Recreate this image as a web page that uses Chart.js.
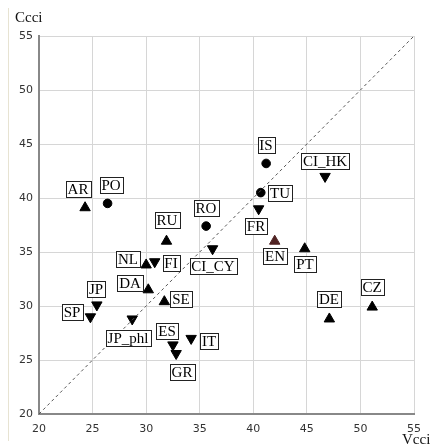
<!DOCTYPE html>
<html>
<head>
<meta charset="utf-8">
<script src="https://cdn.jsdelivr.net/npm/chart.js@4/dist/chart.umd.min.js"></script>
<style>
  html, body { margin: 0; padding: 0; background: #fff; }
  #wrap { width: 430px; height: 445px; position: relative; }
</style>
</head>
<body>
<div id="wrap"><canvas id="c" width="430" height="445"></canvas></div>
<script>
// Country codes with their Vcci (x) and Ccci (y) scores
const countries = ['PO', 'RO', 'IS', 'TU',
  'AR', 'RU', 'EN', 'NL', 'DA', 'SE', 'PT', 'CZ', 'DE',
  'FR', 'CI_CY', 'FI', 'JP', 'SP', 'JP_phl', 'ES', 'GR', 'IT', 'CI_HK'];
const vcci = [26.4, 35.6, 41.2, 40.7,
  24.3, 31.9, 42.0, 30.0, 30.2, 31.7, 44.8, 51.1, 47.1,
  40.5, 36.2, 30.8, 25.4, 24.8, 28.7, 32.5, 32.8, 34.2, 46.7];
const ccci = [39.5, 37.4, 43.2, 40.5,
  39.1, 36.0, 36.0, 33.8, 31.5, 30.4, 35.3, 29.9, 28.8,
  39.0, 35.3, 34.1, 30.1, 29.0, 28.8, 26.4, 25.6, 27.0, 42.0];
// Marker group of each country
const groups = ['dot', 'dot', 'dot', 'dot',
  'up', 'up', 'up', 'up', 'up', 'up', 'up', 'up', 'up',
  'down', 'down', 'down', 'down', 'down', 'down', 'down', 'down', 'down', 'down'];
const axisTicks = [20, 25, 30, 35, 40, 45, 50, 55];

// Marker look per group
const markerStyle = {
  dot:  { shape: 'circle',   radius: 4.3, rotation: 0 },
  up:   { shape: 'triangle', radius: 6,   rotation: 0 },
  down: { shape: 'triangle', radius: 6,   rotation: 180 }
};
const markerColor = { EN: '#4f2222' };

// Where each label box sits relative to its marker (pixels)
const labelShift = {
  PO: [3, -18], RO: [0, -18], IS: [0, -18], TU: [19, 0],
  AR: [-7, -19], RU: [0, -21], EN: [0, 15], NL: [-18, -6], DA: [-18, -7],
  SE: [17, -3], PT: [0, 15], CZ: [0, -20], DE: [0, -20],
  FR: [-3, 17], CI_CY: [0, 17], FI: [16, 1], JP: [-1, -16], SP: [-18, -5],
  'JP_phl': [-4, 19], ES: [-6, -14], GR: [6, 18], IT: [18, 3], CI_HK: [0, -15]
};

const serifFont = '15px "Liberation Serif", "Times New Roman", serif';
const points = countries.map((c, i) => ({ x: vcci[i], y: ccci[i] }));

const boxedLabels = {
  id: 'boxedLabels',
  beforeDraw(chart) {
    const ctx = chart.ctx;
    ctx.save();
    ctx.strokeStyle = '#e7e3d2';
    ctx.lineWidth = 1;
    ctx.beginPath();
    ctx.moveTo(8.5, 8);
    ctx.lineTo(8.5, 441);
    ctx.stroke();
    ctx.restore();
  },
  afterDatasetsDraw(chart) {
    const ctx = chart.ctx;
    const meta = chart.getDatasetMeta(1);
    ctx.save();
    ctx.font = serifFont;
    ctx.textAlign = 'center';
    ctx.textBaseline = 'middle';
    meta.data.forEach((el, i) => {
      const name = countries[i];
      const [dx, dy] = labelShift[name] || [0, -18];
      const cx = Math.round(el.x + dx);
      const cy = Math.round(el.y + dy);
      const w = Math.round(ctx.measureText(name).width + 4);
      const h = 16;
      const left = Math.round(cx - w / 2) + 0.5;
      const top = Math.round(cy - h / 2) + 0.5;
      ctx.fillStyle = '#fff';
      ctx.fillRect(left, top, w, h);
      ctx.strokeStyle = '#222';
      ctx.lineWidth = 1;
      ctx.strokeRect(left, top, w, h);
      ctx.fillStyle = '#000';
      ctx.fillText(name, cx, cy + 1);
    });
    ctx.restore();
  },
  afterDraw(chart) {
    const ctx = chart.ctx;
    ctx.save();
    ctx.font = serifFont;
    ctx.fillStyle = '#111';
    ctx.textBaseline = 'middle';
    ctx.textAlign = 'left';
    ctx.fillText('Ccci', 15, 18);
    ctx.fillText('Vcci', 402, 440);
    ctx.restore();
  }
};

const tickFont = { family: '"DejaVu Sans", Verdana, sans-serif', size: 11 };

new Chart(document.getElementById('c'), {
  data: {
    datasets: [
      {
        type: 'line',
        data: [{ x: 20, y: 20 }, { x: 55, y: 55 }],
        borderColor: '#555',
        borderWidth: 1,
        borderDash: [3, 3],
        pointRadius: 0,
        fill: false
      },
      {
        type: 'scatter',
        data: points,
        pointStyle: ctx => markerStyle[groups[ctx.dataIndex]].shape,
        radius: ctx => markerStyle[groups[ctx.dataIndex]].radius,
        rotation: ctx => markerStyle[groups[ctx.dataIndex]].rotation,
        backgroundColor: ctx => markerColor[countries[ctx.dataIndex]] || '#000',
        borderColor: ctx => markerColor[countries[ctx.dataIndex]] || '#000',
        borderWidth: 1
      }
    ]
  },
  options: {
    responsive: false,
    devicePixelRatio: 1,
    animation: false,
    events: [],
    layout: { padding: { left: 0, top: 36, right: 13, bottom: 0 } },
    plugins: { legend: { display: false }, tooltip: { enabled: false } },
    scales: {
      x: {
        type: 'linear',
        min: 20, max: 55,
        afterBuildTicks: s => { s.ticks = axisTicks.map(v => ({ value: v })); },
        afterFit: s => { s.height = 31; },
        ticks: { padding: 9, font: tickFont, color: '#333' },
        grid: { color: '#d6d6d6', lineWidth: 1, drawTicks: false },
        border: { color: '#888', width: 2 }
      },
      y: {
        type: 'linear',
        min: 20, max: 55,
        afterBuildTicks: s => { s.ticks = axisTicks.map(v => ({ value: v })); },
        afterFit: s => { s.width = 39; },
        ticks: { padding: 6, font: tickFont, color: '#333' },
        grid: { color: '#d6d6d6', lineWidth: 1, drawTicks: false },
        border: { color: '#888', width: 2 }
      }
    }
  },
  plugins: [boxedLabels]
});
</script>
</body>
</html>
